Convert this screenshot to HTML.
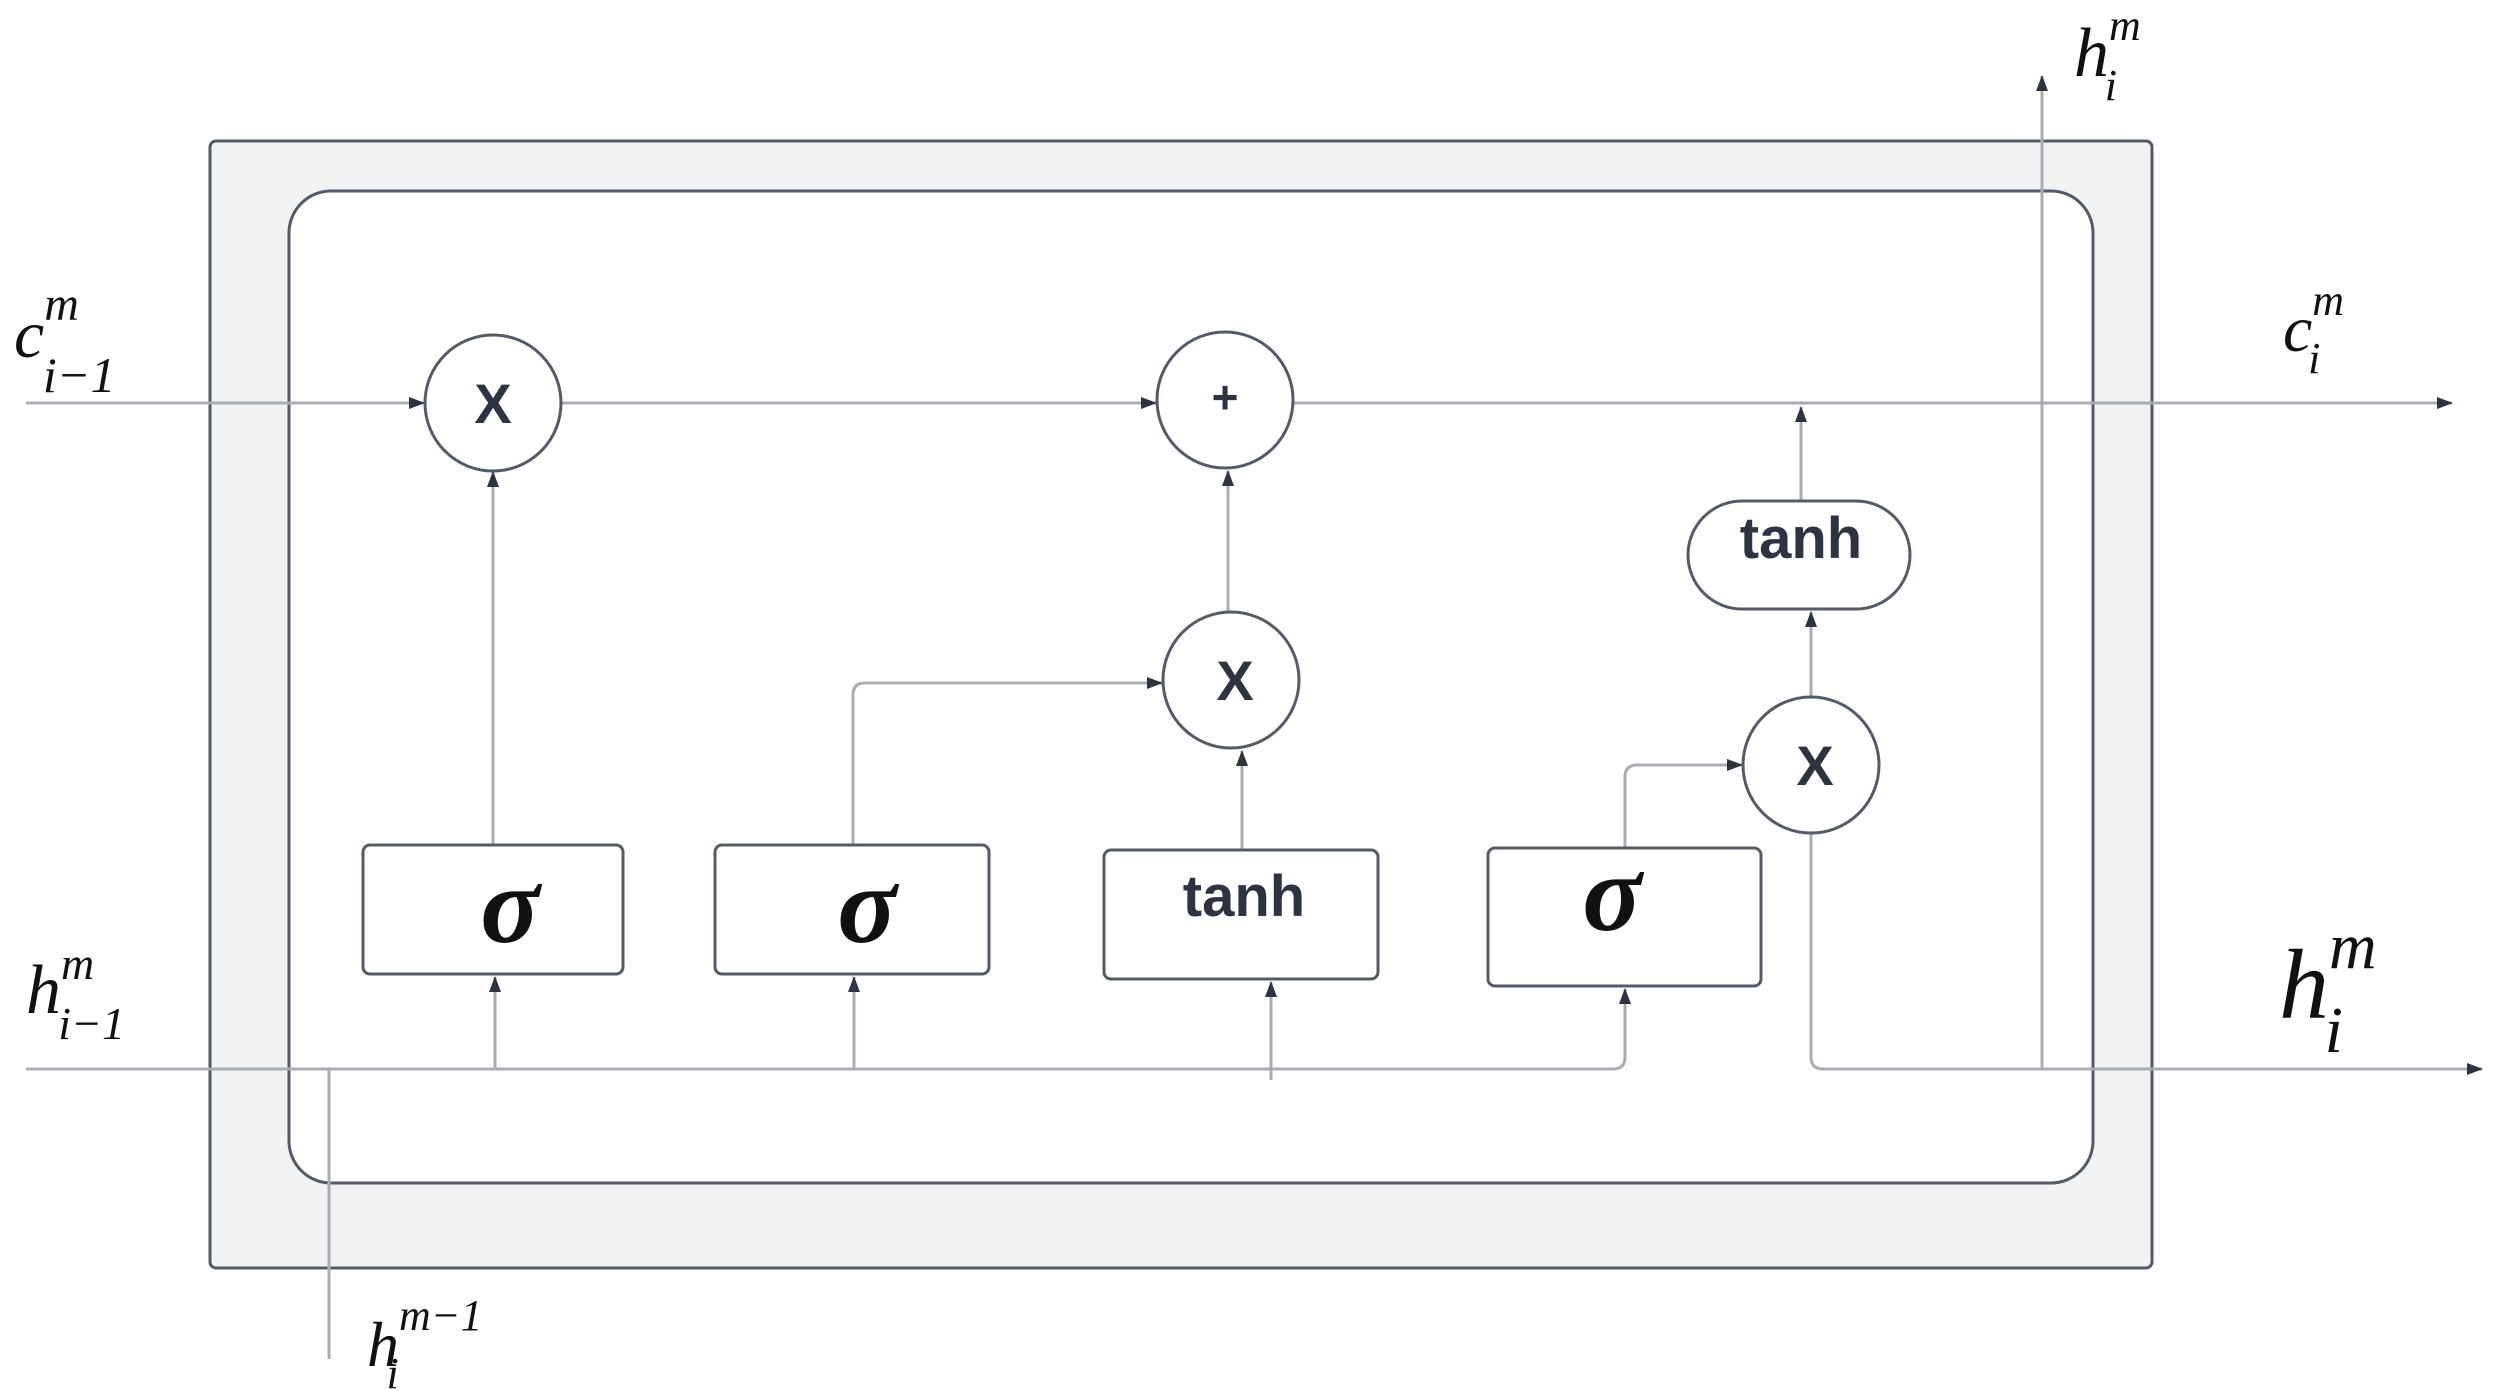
<!DOCTYPE html>
<html><head><meta charset="utf-8"><style>
html,body{margin:0;padding:0;background:#fff;}
svg{display:block}
.it{font-family:"Liberation Serif",serif;font-style:italic;fill:#111}
.b{font-family:"Liberation Sans",sans-serif;font-weight:bold;fill:#2d3340}
</style></head><body>
<svg width="2499" height="1390" viewBox="0 0 2499 1390" xmlns="http://www.w3.org/2000/svg">
<defs>
<marker id="a" markerWidth="16" markerHeight="12" refX="15" refY="6" orient="auto" markerUnits="userSpaceOnUse">
<path d="M0,0 L16,6 L0,12 Z" fill="#2d3340"/></marker>
</defs>
<!-- outer box -->
<rect x="210" y="141" width="1942" height="1127" rx="6" fill="#f1f2f4" stroke="#555b66" stroke-width="3"/>
<rect x="289" y="191" width="1804" height="992" rx="42" fill="#fff" stroke="#555b66" stroke-width="3"/>
<g stroke="#a9adb3" stroke-width="3" fill="none">
<!-- top c line -->
<line x1="26" y1="403" x2="424" y2="403" marker-end="url(#a)"/>
<line x1="562" y1="403" x2="1156" y2="403" marker-end="url(#a)"/>
<line x1="1293" y1="403" x2="2452" y2="403" marker-end="url(#a)"/>
<!-- bottom h line -->
<path d="M26,1069 H1613 Q1625,1069 1625,1057 V989" marker-end="url(#a)"/>
<path d="M1811,834 V1057 Q1811,1069 1823,1069 H2482" marker-end="url(#a)"/>
<line x1="2042" y1="1069" x2="2042" y2="76" marker-end="url(#a)"/>
<line x1="329" y1="1069" x2="329" y2="1359"/>
<!-- inputs to boxes -->
<line x1="495" y1="1069" x2="495" y2="977" marker-end="url(#a)"/>
<line x1="854" y1="1069" x2="854" y2="977" marker-end="url(#a)"/>
<line x1="1271" y1="1080" x2="1271" y2="982" marker-end="url(#a)"/>
<!-- box outputs -->
<line x1="493" y1="845" x2="493" y2="472" marker-end="url(#a)"/>
<path d="M853,845 V695 Q853,683 865,683 H1162" marker-end="url(#a)"/>
<line x1="1242" y1="850" x2="1242" y2="751" marker-end="url(#a)"/>
<line x1="1228" y1="612" x2="1228" y2="471" marker-end="url(#a)"/>
<path d="M1625,848 V777 Q1625,765 1637,765 H1742" marker-end="url(#a)"/>
<line x1="1811" y1="696" x2="1811" y2="612" marker-end="url(#a)"/>
<line x1="1801" y1="501" x2="1801" y2="407" marker-end="url(#a)"/>
</g>
<!-- circles -->
<g fill="#fff" stroke="#555b66" stroke-width="3">
<circle cx="493" cy="403" r="68"/>
<circle cx="1225" cy="400" r="68"/>
<circle cx="1231" cy="680" r="68"/>
<circle cx="1811" cy="765" r="68"/>
<rect x="363" y="845" width="260" height="129" rx="7"/>
<rect x="715" y="845" width="274" height="129" rx="7"/>
<rect x="1104" y="850" width="274" height="129" rx="7"/>
<rect x="1488" y="848" width="273" height="138" rx="7"/>
<rect x="1688" y="501" width="222" height="108" rx="54"/>
</g>
<g class="b" text-anchor="middle">
<text x="493" y="423" font-size="56">X</text>
<text x="1225" y="413" font-size="46">+</text>
<text x="1235" y="700" font-size="56">X</text>
<text x="1815" y="785" font-size="56">X</text>
<text x="1244" y="916" font-size="58">tanh</text>
<text x="1801" y="558" font-size="58">tanh</text>
</g>
<g class="it" font-weight="bold" text-anchor="middle" font-size="110">
<text x="510" y="942">σ</text>
<text x="867" y="942">σ</text>
<text x="1612" y="930">σ</text>
</g>
<!-- labels -->
<text class="it" x="14" y="357" font-size="68">c<tspan font-size="48" dy="-37">m</tspan><tspan font-size="50" dx="-36" dy="72">i</tspan><tspan font-size="50">−1</tspan></text>
<text class="it" x="26" y="1013" font-size="70">h<tspan font-size="46" dy="-34">m</tspan><tspan font-size="46" dx="-36" dy="60">i</tspan><tspan font-size="46">−1</tspan></text>
<text class="it" x="2074" y="76" font-size="70">h<tspan font-size="44" dy="-36">m</tspan><tspan font-size="44" dx="-36" dy="60">i</tspan></text>
<text class="it" x="2283" y="351" font-size="66">c<tspan font-size="44" dy="-36">m</tspan><tspan font-size="44" dx="-36" dy="58">i</tspan></text>
<text class="it" x="2279" y="1018" font-size="100">h<tspan font-size="66" dy="-50">m</tspan><tspan font-size="66" dx="-52" dy="84">i</tspan></text>
<text class="it" x="367" y="1366" font-size="64">h<tspan font-size="44" dy="-36">m−1</tspan><tspan font-size="44" dx="-96" dy="58">i</tspan></text>
</svg>
</body></html>
